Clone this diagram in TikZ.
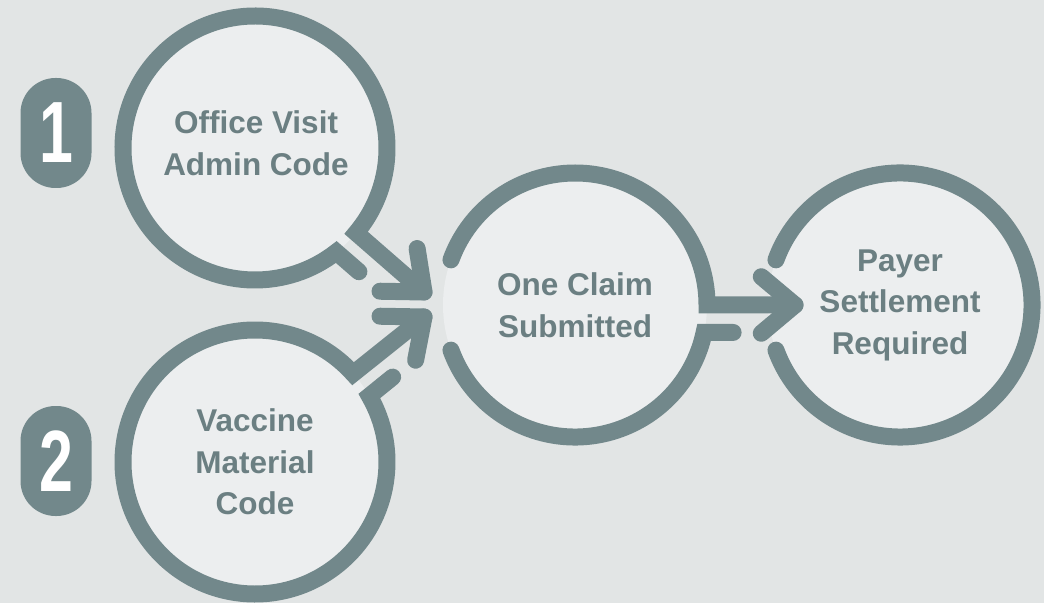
\documentclass[tikz,border=0pt]{standalone}
\usepackage{fontspec}
\setmainfont{Liberation Sans}
\newfontfamily\digitfont[FakeStretch=0.7]{Liberation Sans}
\definecolor{bgcol}{HTML}{E2E5E5}
\definecolor{fillcol}{HTML}{ECEEEF}
\definecolor{linecol}{HTML}{72888B}
\definecolor{textcol}{HTML}{6B7F82}
\begin{document}
\begin{tikzpicture}[x=1pt,y=1pt,
    ring/.style={circle,minimum size=264pt,inner sep=0pt,outer sep=0pt,fill=fillcol,
      align=center,text=textcol,font=\fontsize{31.5}{41.5}\selectfont\bfseries},
    flow/.style={draw=linecol,line width=17pt,line cap=round,line join=miter},
    badge/.style={fill=linecol,rounded corners=35pt,minimum width=71pt,minimum height=110pt,
      inner sep=0pt,text=white,font=\digitfont\bfseries\fontsize{87}{87}\selectfont}]
			\useasboundingbox (0,0) rectangle (1044,603);
			\fill[bgcol] (0,0) rectangle (1044,603);
			\node[badge] (one) at (56,470) {1};
			\node[badge] (two) at (56,142) {2};
			\node[ring] (officevisit) at (255,455) {};
			\node[text=textcol,align=center,font=\fontsize{31.5}{41.5}\selectfont\bfseries] (officetext) at (256,460) {Office Visit\\Admin Code};
			\node[ring] (vaccine) at (255,141) {Vaccine\\Material\\Code};
			\node[ring] (oneclaim) at (575,298) {One Claim\\Submitted};
			\node[ring] (payer) at (900,298) {Payer\\Settlement\\Required};
			\coordinate (tipA) at (424,311);
			\coordinate (tipB) at (424,286);
			\coordinate (tipC) at (795,298);
			\draw[flow] (tipA) -- (officevisit.-40) arc[start angle=-40,end angle=308,radius=132pt] -- ++(-41:30pt);
			\draw[flow] (tipA) -- ++(99:44pt) (tipA) -- ++(179:44pt);
			\draw[flow] (tipB) -- (vaccine.42) arc[start angle=42,end angle=390,radius=132pt] -- ++(39:30pt);
			\draw[flow] (tipB) -- ++(-101:44pt) (tipB) -- ++(179:44pt);
			\draw[flow] (oneclaim.200) arc[start angle=200,end angle=348,radius=132pt] -- ++(0:29pt);
			\draw[flow] (tipC) -- (oneclaim.0) arc[start angle=0,end angle=160,radius=132pt];
			\draw[flow] (tipC) -- ++(140:44pt) (tipC) -- ++(-140:44pt);
			\draw[flow] (payer.200) arc[start angle=200,end angle=520,radius=132pt];
\end{tikzpicture}
\end{document}
